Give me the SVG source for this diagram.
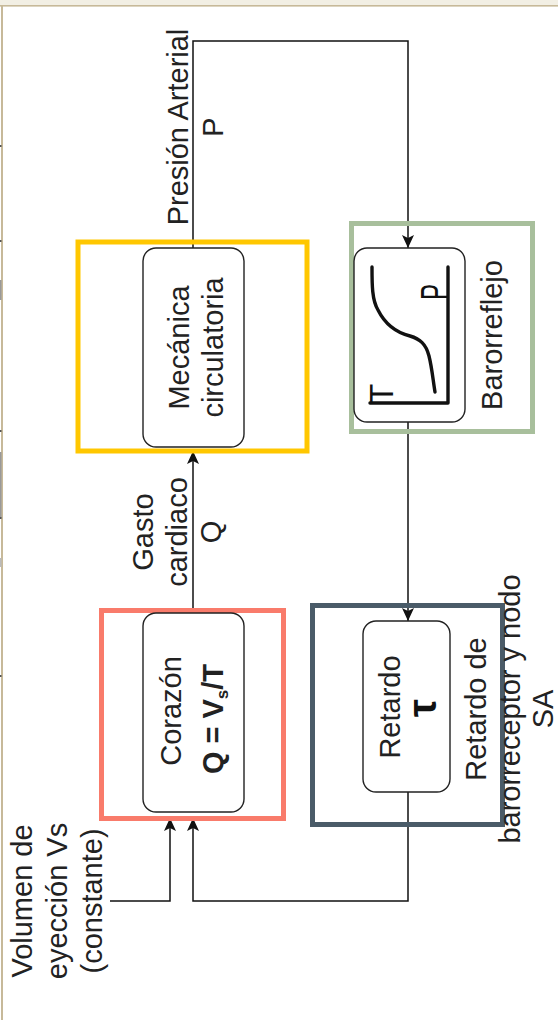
<svg xmlns="http://www.w3.org/2000/svg" width="558" height="1020" viewBox="0 0 558 1020">
<style>
.t{font-family:"Liberation Sans",Arial,sans-serif;font-size:29px;fill:#222;text-anchor:middle}
.b{font-weight:bold}
.ln{fill:none;stroke:#111;stroke-width:1.5}
.inner{fill:#fff;stroke:#222;stroke-width:1.4}
.cont{fill:none;stroke-width:5}
.icon{fill:none;stroke:#111;stroke-width:3.4;stroke-linecap:round;stroke-linejoin:round}
</style>
<defs>
<marker id="arr" markerWidth="14" markerHeight="14" refX="13" refY="7" orient="auto" markerUnits="userSpaceOnUse">
<path d="M0,1 L13,7 L0,13 L3,7 Z" fill="#111"/>
</marker>
</defs>
<g id="background">
<rect x="0" y="0" width="558" height="1020" fill="#fff"/>
<rect x="0" y="0" width="558" height="5" fill="#f2efe4"/>
<rect x="0" y="5" width="558" height="1.6" fill="#c7b999"/>
<rect x="1" y="5" width="2" height="1015" fill="#c7b999"/>
<rect x="0" y="145" width="1.5" height="2" fill="#555"/>
<rect x="0" y="240" width="1.5" height="2" fill="#555"/>
<rect x="0" y="280" width="1.5" height="20" fill="#999"/>
<rect x="0" y="430" width="1.5" height="2" fill="#555"/>
<rect x="0" y="452" width="1.5" height="66" fill="#999"/>
<rect x="0" y="517" width="1.5" height="2" fill="#555"/>
<rect x="0" y="558" width="1.5" height="9" fill="#bbb"/>
<rect x="0" y="675" width="1.5" height="2" fill="#555"/>
</g>
<g id="connectors">
<path class="ln" d="M193,248 L193,41 L408,41 L408,248" marker-end="url(#arr)"/>
<path class="ln" d="M408,422 L408,621" marker-end="url(#arr)"/>
<path class="ln" d="M193,613 L193,451" marker-end="url(#arr)"/>
<path class="ln" d="M408,792 L408,901 L193,901 L193,818" marker-end="url(#arr)"/>
<path class="ln" d="M110,901 L170,901 L170,818" marker-end="url(#arr)"/>
</g>
<g id="mecanica">
<rect class="cont" x="78" y="242" width="229" height="209" stroke="#ffc700"/>
<rect class="inner" x="143" y="248" width="101" height="199" rx="13"/>
<text class="t" transform="translate(189,347.5) rotate(-90)"><tspan x="0" y="0">Mecánica</tspan><tspan x="0" dy="34">circulatoria</tspan></text>
</g>
<g id="barorreflejo">
<rect class="cont" x="351.5" y="223.5" width="181" height="208" stroke="#a8bf9c"/>
<rect class="inner" x="354" y="248" width="111" height="174" rx="13"/>
<path class="icon" d="M372,267 C372,285 372,300 378,310 C386,326 398,333 410,336 C420,339 426,344 429,356 C432,368 433,380 435,392"/>
<path class="icon" d="M448,267 L448,403 L370,403"/>
<text class="t" transform="translate(393,394) rotate(-90)" style="font-size:33px;fill:#111">T</text>
<text class="t" transform="translate(448,292) rotate(-90)" style="font-size:38px;fill:#111" textLength="16" lengthAdjust="spacingAndGlyphs">P</text>
<text class="t" transform="translate(502,335) rotate(-90)">Barorreflejo</text>
</g>
<g id="corazon">
<rect class="cont" x="101.5" y="610.5" width="182" height="208" stroke="#f97b6b"/>
<rect class="inner" x="143" y="613" width="101" height="199" rx="13"/>
<text class="t" transform="translate(181,711) rotate(-90)">Corazón</text>
<text class="t b" transform="translate(223,719) rotate(-90)">Q = V<tspan style="font-size:17px" dy="5">s</tspan><tspan dy="-5">/T</tspan></text>
</g>
<g id="retardo">
<rect class="cont" x="312.5" y="605.5" width="190" height="219" stroke="#4a5b68"/>
<rect class="inner" x="363" y="621" width="87" height="171" rx="13"/>
<text class="t" transform="translate(400,707) rotate(-90)">Retardo</text>
<text class="t b" transform="translate(436,708) rotate(-90)" style="font-size:40px;fill:#111">τ</text>
<text class="t" transform="translate(486,709) rotate(-90)"><tspan x="0" y="0">Retardo de</tspan><tspan x="0" dy="33.5">barorreceptor y nodo</tspan><tspan x="0" dy="33.5">SA</tspan></text>
</g>
<g id="labels">
<text class="t" transform="translate(188,127) rotate(-90)"><tspan x="0" y="0">Presión Arterial</tspan><tspan x="0" dy="35">P</tspan></text>
<text class="t" transform="translate(153,532) rotate(-90)"><tspan x="0" y="0">Gasto</tspan><tspan x="0" dy="34">cardiaco</tspan><tspan x="0" dy="34">Q</tspan></text>
<text class="t" transform="translate(32,901) rotate(-90)"><tspan x="0" y="0">Volumen de</tspan><tspan x="0" dy="35">eyección Vs</tspan><tspan x="0" dy="35">(constante)</tspan></text>
</g>
</svg>
